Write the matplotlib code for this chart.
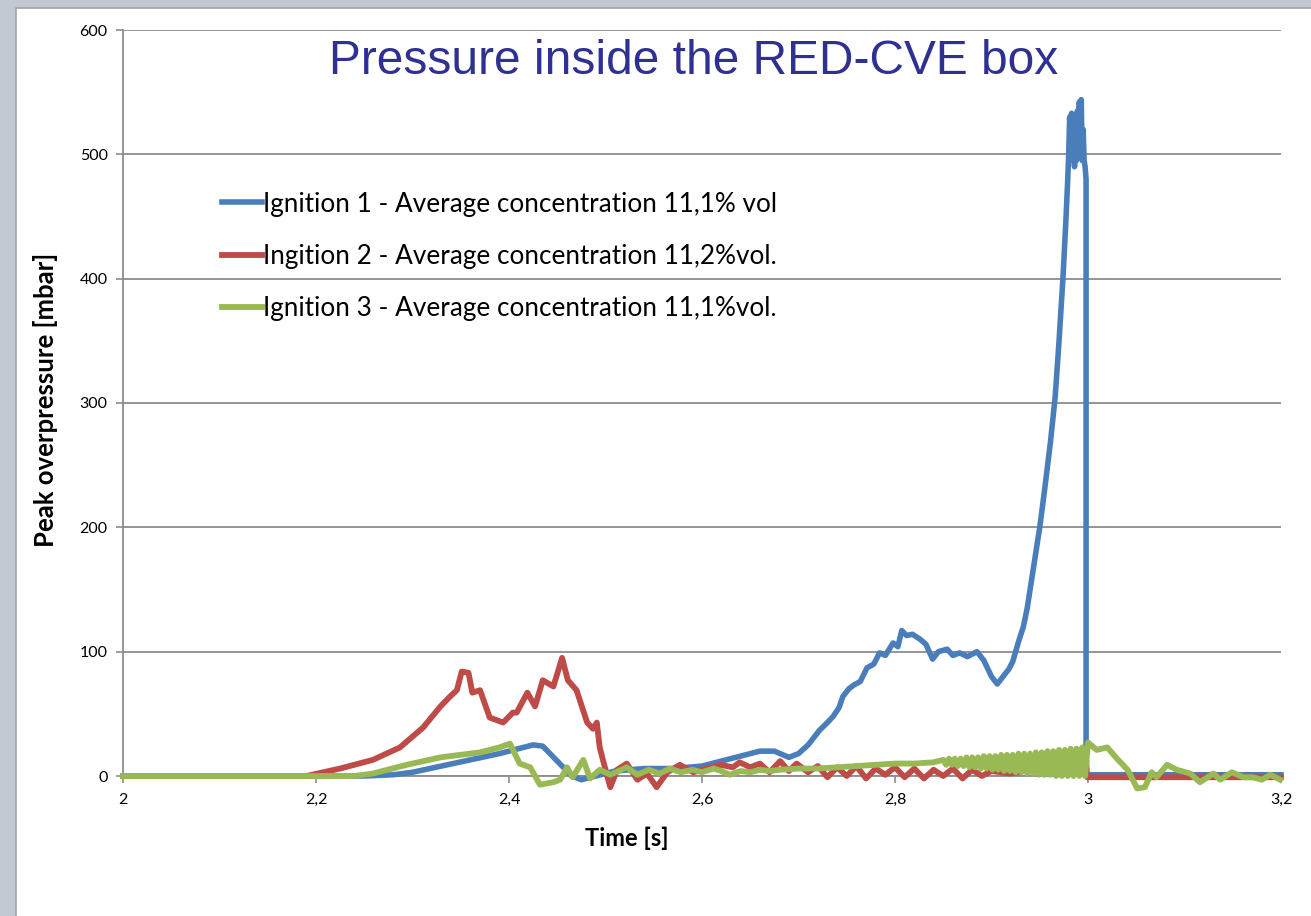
import matplotlib.pyplot as plt
from matplotlib.patches import Rectangle
from matplotlib.ticker import FuncFormatter

# Ignition 1 (blue)
t1 = [2.00, 2.25, 2.28, 2.30, 2.33, 2.36, 2.39, 2.41, 2.425, 2.435, 2.45, 2.465, 2.475,
      2.49, 2.51, 2.54, 2.57, 2.60, 2.62, 2.64, 2.66, 2.675, 2.69, 2.70, 2.71, 2.722,
      2.73, 2.736, 2.742, 2.746, 2.752, 2.757, 2.764, 2.771, 2.778, 2.784, 2.79, 2.798,
      2.803, 2.807, 2.812, 2.818, 2.826, 2.832, 2.839, 2.845, 2.854, 2.86, 2.867, 2.875,
      2.885, 2.892, 2.90, 2.906, 2.912, 2.918, 2.922, 2.928, 2.933, 2.937, 2.942, 2.946,
      2.950, 2.955, 2.961, 2.966, 2.970, 2.974, 2.977, 2.979, 2.980, 2.981, 2.982, 2.983,
      2.984, 2.985, 2.986, 2.987, 2.988, 2.989, 2.990, 2.991, 2.992, 2.993, 2.994, 2.995,
      2.996, 2.997, 2.998, 2.998, 3.000, 3.05, 3.10, 3.15, 3.20]
p1 = [0, 0, 1, 3, 8, 13, 18, 22, 25, 24, 12, 0, -3,
      0, 4, 6, 6, 8, 12, 16, 20, 20, 15, 18, 25, 37,
      43, 48, 55, 64, 70, 73, 76, 87, 90, 99, 97, 107,
      104, 117, 113, 114, 110, 106, 94, 100, 102, 97, 99, 96,
      100, 93, 80, 74, 80, 86, 92, 108, 120, 135, 160, 180,
      200, 230, 268, 305, 350, 400, 445, 480, 500, 530, 495, 533,
      500, 520, 490, 510, 495, 535, 498, 542, 500, 544, 495, 520,
      495, 490, 480, 2, 1, 1, 1, 1, 1]

# Ingition 2 (red)
t2 = [2.00, 2.19, 2.225, 2.259, 2.287, 2.311, 2.329, 2.339, 2.346, 2.351, 2.358, 2.362,
      2.370, 2.380, 2.394, 2.404, 2.408, 2.419, 2.427, 2.435, 2.446, 2.455, 2.461, 2.470,
      2.481, 2.487, 2.491, 2.494, 2.501, 2.505, 2.512, 2.522, 2.533, 2.543, 2.553, 2.564,
      2.577, 2.591, 2.605, 2.619, 2.632, 2.639, 2.650, 2.660, 2.670, 2.681, 2.690, 2.698,
      2.71, 2.72, 2.73, 2.74, 2.75, 2.76, 2.77, 2.78, 2.79, 2.80, 2.81, 2.82, 2.83, 2.84,
      2.85, 2.86, 2.87, 2.88, 2.89, 2.90, 2.92, 2.94, 2.96, 2.98, 2.998, 2.999, 3.20]
p2 = [0, 0, 6, 13, 23, 39, 56, 64, 69, 84, 83, 67,
      69, 47, 43, 51, 51, 67, 56, 77, 72, 95, 77, 69,
      43, 38, 43, 23, 2, -9, 5, 10, -3, 2, -9, 3,
      9, 3, 6, 9, 7, 11, 7, 10, 3, 12, 4, 10,
      3, 8, -1, 7, 0, 8, -2, 6, 1, 7, -1, 6, -2, 5,
      0, 6, -2, 5, 0, 4, 2, 5, 3, 6, 15, -1, -1]

# Ignition 3 (green)
t3 = [2.00, 2.24, 2.259, 2.294, 2.329, 2.37, 2.39, 2.401, 2.411, 2.422, 2.432, 2.446,
      2.453, 2.460, 2.466, 2.477, 2.484, 2.494, 2.505, 2.522, 2.533, 2.545, 2.556, 2.567,
      2.578, 2.59, 2.60, 2.612, 2.62, 2.629, 2.64, 2.65, 2.66, 2.67, 2.68, 2.70, 2.72,
      2.74, 2.76, 2.78, 2.80, 2.82, 2.84,
      2.850, 2.853, 2.856, 2.859, 2.862, 2.865, 2.868, 2.871, 2.874, 2.877,
      2.880, 2.883, 2.886, 2.889, 2.892, 2.895, 2.898, 2.901, 2.904, 2.907,
      2.910, 2.913, 2.916, 2.919, 2.922, 2.925, 2.928, 2.931, 2.934, 2.937,
      2.940, 2.943, 2.946, 2.949, 2.952, 2.955, 2.958, 2.961, 2.964, 2.967,
      2.970, 2.973, 2.976, 2.979, 2.982, 2.985, 2.988, 2.991, 2.994, 2.997,
      3.000, 3.009, 3.020, 3.030, 3.041, 3.051, 3.059, 3.066, 3.071, 3.082, 3.092, 3.106,
      3.116, 3.130, 3.137, 3.149, 3.161, 3.171, 3.180, 3.189, 3.199]
p3 = [0, 0, 2, 9, 15, 19, 23, 26, 10, 7, -7, -5,
      -3, 7, -1, 13, -2, 5, 1, 7, 1, 5, 2, 6,
      3, 5, 3, 6, 4, 1, 4, 3, 5, 4, 5, 6, 6,
      7, 8, 9, 10, 10, 11,
      13, 9, 14, 9, 14, 8, 14, 8, 15, 7,
      15, 7, 15, 6, 16, 6, 16, 5, 16, 5,
      17, 4, 17, 4, 17, 3, 18, 3, 18, 2,
      18, 2, 19, 1, 19, 1, 20, 1, 20, 0,
      21, 0, 21, 0, 22, 0, 22, 0, 23, 0,
      27, 21, 23, 14, 5, -10, -9, 3, -1, 9, 5, 2,
      -5, 2, -3, 3, -1, -1, -3, 1, -3]

labels = ["Ignition 1 - Average concentration 11,1% vol",
          "Ingition 2 - Average concentration 11,2%vol.",
          "Ignition 3 - Average concentration 11,1%vol."]
colors = ["#4a7ebb", "#be4b48", "#98b954"]
xticks = [2.0, 2.2, 2.4, 2.6, 2.8, 3.0, 3.2]
yticks = [0, 100, 200, 300, 400, 500, 600]

plt.rcParams['font.family'] = ['Lato', 'DejaVu Sans']

fig = plt.figure(figsize=(13.11, 9.16), dpi=100, facecolor="#c2c8d0")
# white slide panel behind the chart
fig.patches.append(Rectangle((16 / 1311, -0.05), 1.1, 1.05 - 8 / 916,
                             transform=fig.transFigure, facecolor="white",
                             edgecolor="#a0a4a8", linewidth=1.2, zorder=-5))

ax = fig.add_axes([123 / 1311, 140 / 916, 1158 / 1311, 746 / 916])
ax.set_facecolor("none")

ax.plot(t1, p1, color=colors[0], lw=4.0, clip_on=False, zorder=3, label=labels[0])
ax.plot(t2, p2, color=colors[1], lw=4.2, clip_on=False, zorder=4, label=labels[1])
ax.plot(t3, p3, color=colors[2], lw=4.2, clip_on=False, zorder=5, label=labels[2])

ax.set_xlim(2.0, 3.2)
ax.set_ylim(0, 600)
ax.set_xticks(xticks)
ax.set_yticks(yticks)
ax.xaxis.set_major_formatter(FuncFormatter(lambda v, p: f"{v:g}".replace(".", ",")))
ax.yaxis.grid(True, color="#8c8c8c", lw=1.3)
ax.set_axisbelow(True)
for s in ["top", "right"]:
    ax.spines[s].set_visible(False)
for s in ["left", "bottom"]:
    ax.spines[s].set_color("#8c8c8c")
    ax.spines[s].set_linewidth(1.3)
ax.tick_params(axis="both", colors="#8c8c8c", length=5, width=1.2, labelcolor="black",
               labelsize=11.5)
ax.tick_params(axis="x", pad=7)
ax.tick_params(axis="y", pad=6)

ax.set_xlabel("Time [s]", fontsize=17, fontweight="bold", va="center")
ax.xaxis.set_label_coords(0.435, -0.083)
ax.set_ylabel("Peak overpressure [mbar]", fontsize=18.5, fontweight="bold", va="center")
ax.yaxis.set_label_coords(-0.0665, 0.504)

ax.legend(loc="upper left", bbox_to_anchor=(0.0855, 0.7835), frameon=False,
          fontsize=18.8, handlelength=1.53, handletextpad=0.05, labelspacing=1.04,
          borderpad=0, borderaxespad=0)

fig.text(694 / 1311, 1 - 62 / 916, "Pressure inside the RED-CVE box", ha="center",
         va="center", fontsize=34.5, color="#2e3192", family="Liberation Sans")

fig.savefig("out.png", dpi=100, facecolor=fig.get_facecolor())
